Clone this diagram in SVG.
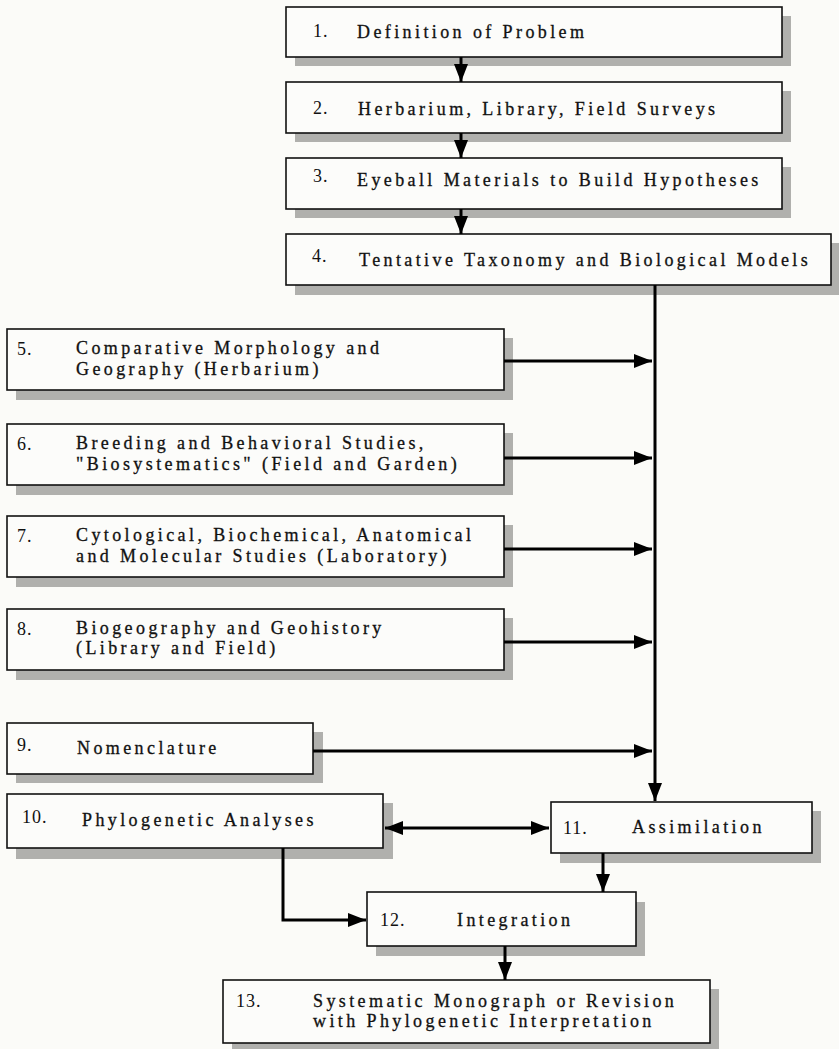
<svg xmlns="http://www.w3.org/2000/svg" width="839" height="1049" viewBox="0 0 839 1049">
<style>
.bg{fill:#fbfbf8}
.sh{fill:#b0b0ad}
.bx{fill:#fcfcfa;stroke:#111;stroke-width:1.6}
.t{font-family:"Liberation Serif","Times New Roman",serif;font-size:18px;fill:#111;stroke:#111;stroke-width:0.3;letter-spacing:3.4px}
.n{font-family:"Liberation Serif","Times New Roman",serif;font-size:18px;fill:#111;letter-spacing:1px}
.c{fill:none;stroke:#000;stroke-width:3}
</style>
<defs>
<marker id="ah" markerUnits="userSpaceOnUse" markerWidth="18" markerHeight="14" refX="18" refY="7" orient="auto-start-reverse" viewBox="0 0 18 14">
<path d="M0,0 L18,7 L0,14 z" fill="#000"/>
</marker>
</defs>
<rect class="bg" x="0" y="0" width="839" height="1049"/>

<g id="node1"><rect class="sh" x="295" y="16" width="496" height="50"/><rect class="bx" x="286" y="7" width="496" height="50"/><text class="n" x="313" y="37">1.</text><text class="t" x="357" y="38">Definition of Problem</text></g>
<g id="node2"><rect class="sh" x="295" y="91" width="496" height="51"/><rect class="bx" x="286" y="82" width="496" height="51"/><text class="n" x="313" y="114">2.</text><text class="t" x="358" y="115">Herbarium, Library, Field Surveys</text></g>
<g id="node3"><rect class="sh" x="295" y="167" width="496" height="51"/><rect class="bx" x="286" y="158" width="496" height="51"/><text class="n" x="313" y="182">3.</text><text class="t" x="357" y="186">Eyeball Materials to Build Hypotheses</text></g>
<g id="node4"><rect class="sh" x="295" y="243" width="544" height="52"/><rect class="bx" x="286" y="234" width="545" height="51"/><text class="n" x="312" y="262">4.</text><text class="t" x="359" y="266">Tentative Taxonomy and Biological Models</text></g>

<g id="node5"><rect class="sh" x="16" y="338" width="497" height="62"/><rect class="bx" x="7" y="329" width="497" height="61"/><text class="n" x="17" y="355">5.</text><text class="t" x="76" y="354">Comparative Morphology and</text><text class="t" x="76" y="375">Geography (Herbarium)</text></g>
<g id="node6"><rect class="sh" x="16" y="433" width="497" height="62"/><rect class="bx" x="7" y="424" width="497" height="61"/><text class="n" x="17" y="450">6.</text><text class="t" x="76" y="449">Breeding and Behavioral Studies,</text><text class="t" x="76" y="470">"Biosystematics" (Field and Garden)</text></g>
<g id="node7"><rect class="sh" x="16" y="525" width="497" height="62"/><rect class="bx" x="7" y="516" width="497" height="61"/><text class="n" x="17" y="542">7.</text><text class="t" x="76" y="541">Cytological, Biochemical, Anatomical</text><text class="t" x="76" y="562">and Molecular Studies (Laboratory)</text></g>
<g id="node8"><rect class="sh" x="16" y="618" width="497" height="62"/><rect class="bx" x="7" y="609" width="497" height="61"/><text class="n" x="17" y="635">8.</text><text class="t" x="76" y="634">Biogeography and Geohistory</text><text class="t" x="76" y="654">(Library and Field)</text></g>
<g id="node9"><rect class="sh" x="16" y="732" width="307" height="51"/><rect class="bx" x="7" y="723" width="306" height="51"/><text class="n" x="17" y="751">9.</text><text class="t" x="77" y="754">Nomenclature</text></g>
<g id="node10"><rect class="sh" x="16" y="803" width="377" height="56"/><rect class="bx" x="7" y="794" width="376" height="54"/><text class="n" x="22" y="823">10.</text><text class="t" x="82" y="826">Phylogenetic Analyses</text></g>
<g id="node11"><rect class="sh" x="560" y="811" width="261" height="52"/><rect class="bx" x="551" y="802" width="261" height="51"/><text class="n" x="563" y="834">11.</text><text class="t" x="632" y="833">Assimilation</text></g>
<g id="node12"><rect class="sh" x="376" y="902" width="269" height="54"/><rect class="bx" x="367" y="892" width="269" height="54"/><text class="n" x="380" y="926">12.</text><text class="t" x="457" y="926">Integration</text></g>
<g id="node13"><rect class="sh" x="232" y="989" width="487" height="60"/><rect class="bx" x="223" y="980" width="487" height="63"/><text class="n" x="236" y="1007">13.</text><text class="t" x="313" y="1007">Systematic Monograph or Revision</text><text class="t" x="313" y="1027">with Phylogenetic Interpretation</text></g>

<g id="connectors">
<path class="c" d="M461,57 V82" marker-end="url(#ah)"/>
<path class="c" d="M461,133 V158" marker-end="url(#ah)"/>
<path class="c" d="M461,209 V234" marker-end="url(#ah)"/>
<path class="c" d="M655,285 V801" marker-end="url(#ah)"/>
<path class="c" d="M504,361 H652" marker-end="url(#ah)"/>
<path class="c" d="M504,458 H652" marker-end="url(#ah)"/>
<path class="c" d="M504,549 H652" marker-end="url(#ah)"/>
<path class="c" d="M504,642 H652" marker-end="url(#ah)"/>
<path class="c" d="M313,751 H652" marker-end="url(#ah)"/>
<path class="c" d="M385,828 H549" marker-start="url(#ah)" marker-end="url(#ah)"/>
<path class="c" d="M603,853 V892" marker-end="url(#ah)"/>
<path class="c" d="M283,848 V920 H366" marker-end="url(#ah)"/>
<path class="c" d="M505,946 V980" marker-end="url(#ah)"/>
</g>
</svg>
